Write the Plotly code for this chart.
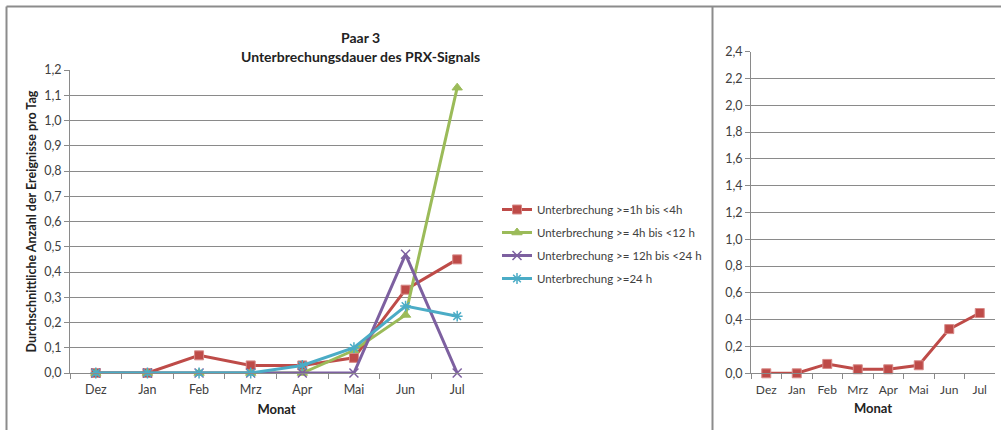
import plotly.graph_objects as go

# Monthly averages of interruption events per day, pair 3
months = ["Dez", "Jan", "Feb", "Mrz", "Apr", "Mai", "Jun", "Jul"]
dur_1_4 = [0.0, 0.0, 0.07, 0.03, 0.03, 0.06, 0.33, 0.45]
dur_4_12 = [0.0, 0.0, 0.0, 0.0, 0.0, 0.09, 0.23, 1.13]
dur_12_24 = [0.0, 0.0, 0.0, 0.0, 0.0, 0.0, 0.47, 0.0]
dur_24 = [0.0, 0.0, 0.0, 0.0, 0.03, 0.10, 0.265, 0.225]

names = [
    "Unterbrechung >=1h bis <4h",
    "Unterbrechung >= 4h bis <12 h",
    "Unterbrechung >= 12h bis <24 h",
    "Unterbrechung >=24 h",
]

W, H = 1001, 430
FONT = "Lato, Liberation Sans, sans-serif"
GRID = "#8a8a8a"
TXT = "#404040"

RED = "#BE4B48"
GREEN = "#9BBB59"
PURPLE = "#7D60A0"
CYAN = "#4BACC6"


def px_x(v):
    return v / W


def px_y(v):
    return 1 - v / H


fig = go.Figure()

series = [
    (dur_1_4, names[0], RED, dict(symbol="square", size=9, color=RED,
                                   line=dict(color="#D88A88", width=1))),
    (dur_4_12, names[1], GREEN, dict(symbol="triangle-up", size=9, color=GREEN,
                                      line=dict(color=GREEN, width=1))),
    (dur_12_24, names[2], PURPLE, dict(symbol="x-thin-open", size=9,
                                        line=dict(color=PURPLE, width=1.5))),
    (dur_24, names[3], CYAN, dict(symbol="asterisk-open", size=9,
                                   line=dict(color=CYAN, width=1.5))),
]

for i, (vals, name, col, mk) in enumerate(series):
    fig.add_trace(go.Scatter(
        x=months, y=vals, name=name, mode="lines+markers",
        line=dict(color=col, width=3), marker=mk, legendgroup=f"g{i}",
        xaxis="x", yaxis="y", cliponaxis=False,
    ))

# second panel: only the 1h-4h series on a wider scale
fig.add_trace(go.Scatter(
    x=months, y=dur_1_4, name=names[0], mode="lines+markers",
    line=dict(color=RED, width=3),
    marker=dict(symbol="square", size=9, color=RED, line=dict(color="#D88A88", width=1)),
    xaxis="x2", yaxis="y2", showlegend=False, cliponaxis=False,
))

axis_common = dict(
    type="category", tickson="boundaries", ticks="outside", ticklen=5,
    tickcolor=GRID, showline=True, linecolor=GRID, linewidth=1,
    showgrid=False, tickfont=dict(family=FONT, size=12.5, color=TXT),
    ticklabelstandoff=5, automargin=False, tickangle=0,
    range=[-0.5, 7.5], fixedrange=True,
)
yaxis_common = dict(
    ticks="outside", ticklen=5, tickcolor=GRID, showline=True,
    linecolor=GRID, linewidth=1, showgrid=True, gridcolor=GRID, gridwidth=1,
    tickformat=".1f", zeroline=False, automargin=False,
    tickfont=dict(family=FONT, size=12.5, color=TXT), fixedrange=True,
)

fig.update_layout(
    width=W, height=H,
    margin=dict(l=0, r=0, t=0, b=0, autoexpand=False),
    paper_bgcolor="white", plot_bgcolor="white",
    separators=",.",
    font=dict(family=FONT, color=TXT),
    xaxis=dict(axis_common, domain=[px_x(70), px_x(483)], anchor="y",
               title=dict(text="<b>Monat</b>", font=dict(family=FONT, size=13, color="#222"),
                          standoff=8)),
    yaxis=dict(yaxis_common, domain=[px_y(373), px_y(70)], anchor="x",
               range=[0, 1.2], dtick=0.1,
               title=dict(text="<b>Durchschnittliche Anzahl der Ereignisse pro Tag</b>",
                          font=dict(family=FONT, size=12.5, color="#222"), standoff=4)),
    xaxis2=dict(axis_common, domain=[px_x(751), px_x(995)], anchor="y2",
                tickfont=dict(family=FONT, size=12, color=TXT),
                title=dict(text="<b>Monat</b>", font=dict(family=FONT, size=13, color="#222"),
                           standoff=8)),
    yaxis2=dict(yaxis_common, domain=[px_y(373.3), px_y(51.7)], anchor="x2",
                range=[0, 2.4], dtick=0.2),
    legend=dict(
        x=px_x(497), y=px_y(195), xanchor="left", yanchor="top",
        font=dict(family=FONT, size=11.5, color=TXT),
        bgcolor="rgba(0,0,0,0)", itemwidth=30, tracegroupgap=4,
    ),
    annotations=[
        dict(text="<b>Paar 3</b>", x=px_x(360), y=px_y(27), xref="paper", yref="paper",
             showarrow=False, font=dict(family=FONT, size=14, color="#222")),
        dict(text="<b>Unterbrechungsdauer des PRX-Signals</b>", x=px_x(360), y=px_y(46),
             xref="paper", yref="paper", showarrow=False,
             font=dict(family=FONT, size=14, color="#222")),
    ],
    shapes=[
        dict(type="line", xref="paper", yref="paper", x0=px_x(6.5), x1=px_x(6.5),
             y0=px_y(6.5), y1=0, line=dict(color="#8c8c8c", width=2)),
        dict(type="line", xref="paper", yref="paper", x0=px_x(6.5), x1=1,
             y0=px_y(6.5), y1=px_y(6.5), line=dict(color="#8c8c8c", width=2)),
        dict(type="line", xref="paper", yref="paper", x0=px_x(712.5), x1=px_x(712.5),
             y0=px_y(6.5), y1=0, line=dict(color="#8c8c8c", width=2)),
    ],
)

fig.write_html("out.html")
